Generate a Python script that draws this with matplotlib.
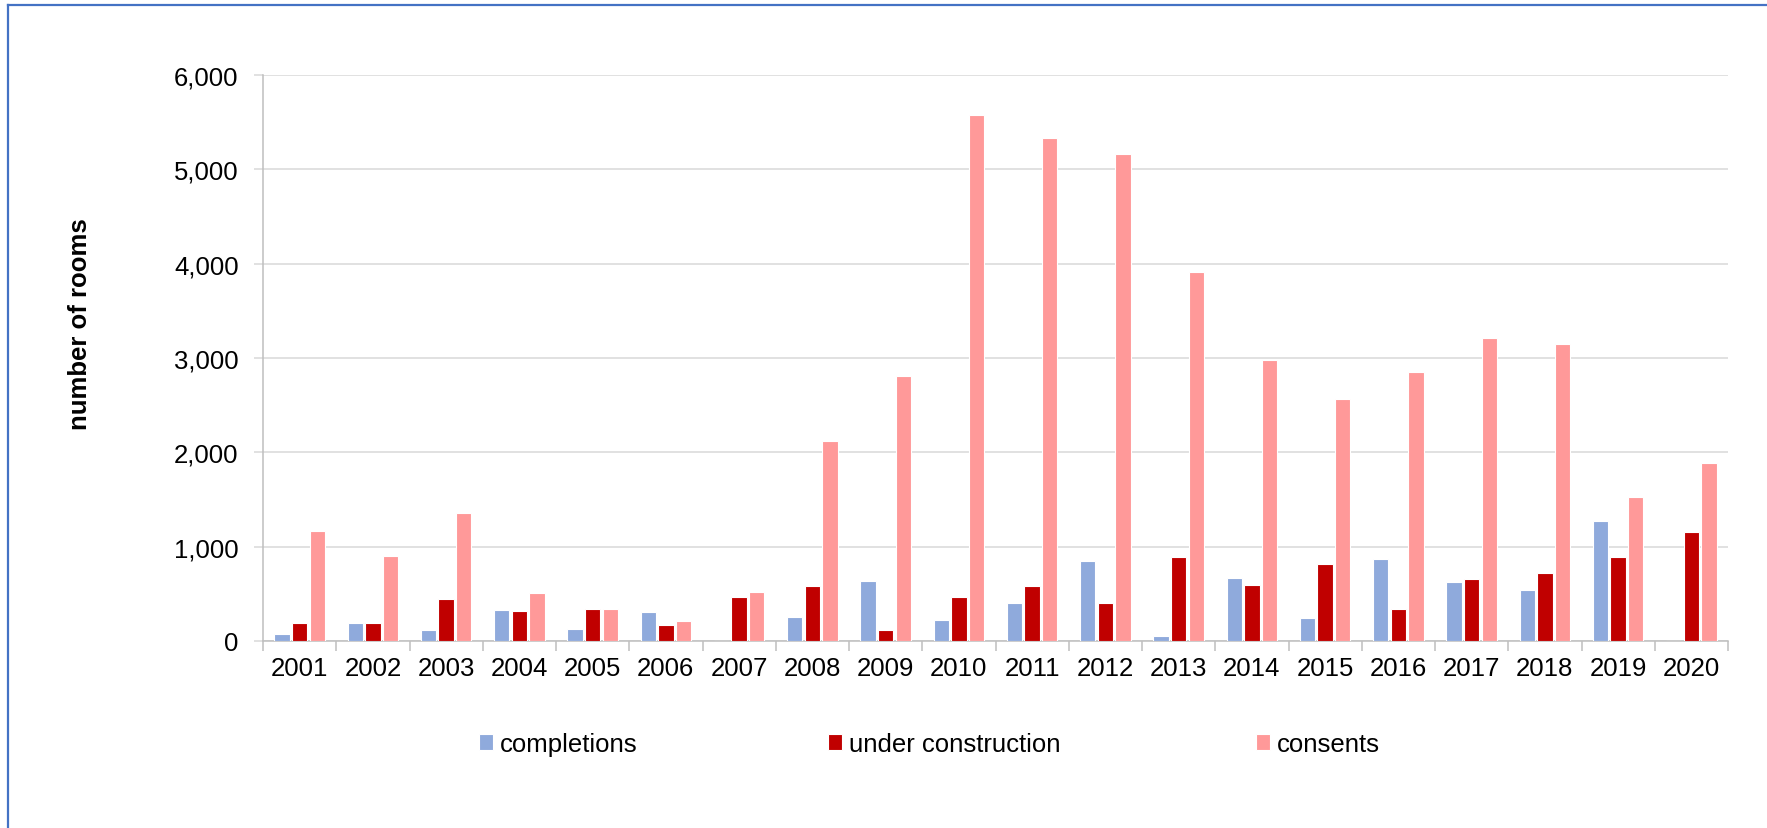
import matplotlib
matplotlib.use("Agg")
import matplotlib.pyplot as plt
import numpy as np
from matplotlib.lines import Line2D
from matplotlib.ticker import FuncFormatter, MultipleLocator

years = ["2001", "2002", "2003", "2004", "2005", "2006", "2007", "2008", "2009", "2010",
         "2011", "2012", "2013", "2014", "2015", "2016", "2017", "2018", "2019", "2020"]
completions = [71, 187, 113, 332, 131, 311, 0, 254, 640, 223,
               406, 852, 53, 668, 244, 866, 625, 537, 1269, 0]
under_construction = [187, 187, 442, 322, 339, 173, 466, 587, 117, 466,
                      587, 406, 890, 594, 816, 339, 657, 717, 890, 1159]
consents = [1163, 901, 1353, 509, 339, 208, 516, 2117, 2807, 5573,
            5329, 5166, 3915, 2975, 2568, 2855, 3209, 3145, 1526, 1887]
series_names = ["completions", "under construction", "consents"]
series_colors = ["#8FAADC", "#C00000", "#FF9999"]

plt.rcParams['font.family'] = ['Liberation Sans', 'DejaVu Sans']
FS = 18.5

W, H = 1767, 829
fig = plt.figure(figsize=(W / 100, H / 100), dpi=100)
ax = fig.add_axes([263 / W, 1 - 642 / H, (1728 - 263) / W, (642 - 76) / H])

x = np.arange(len(years))
step = 0.24
bw = 0.21
containers = []
for i, (vals, name, col) in enumerate(zip([completions, under_construction, consents],
                                          series_names, series_colors)):
    bc = ax.bar(x + (i - 1) * step, vals, width=bw, color=col, edgecolor="white",
                linewidth=0.8, label=name, zorder=3)
    containers.append(bc)

ax.set_xlim(-0.5, len(years) - 0.5)
ax.set_ylim(0, 6000)
ax.yaxis.set_major_locator(MultipleLocator(1000))
ax.yaxis.set_major_formatter(FuncFormatter(lambda v, p: f"{int(v):,}"))
ax.grid(axis="y", color="#D9D9D9", linewidth=1.1, zorder=0)
ax.set_axisbelow(True)

ax.set_xticks(x)
ax.set_xticklabels(years)
ax.set_xticks(np.arange(-0.5, len(years)), minor=True)
ax.tick_params(axis="x", which="major", length=0, pad=11, labelsize=FS)
ax.tick_params(axis="x", which="minor", length=7, color="#BFBFBF", width=1.1)
ax.tick_params(axis="y", length=6.5, color="#D9D9D9", width=1.1, pad=11, labelsize=FS)

for s in ["top", "right"]:
    ax.spines[s].set_visible(False)
for s in ["left", "bottom"]:
    ax.spines[s].set_color("#BFBFBF")
    ax.spines[s].set_linewidth(1.1)

ax.set_ylabel("number of rooms", fontsize=FS, fontweight="bold")
ax.yaxis.set_label_coords((92 - 263) / 1465, (642 - 324) / 566)

legend_x = [479, 828, 1256]
for bc, name, lx in zip(containers, series_names, legend_x):
    fig.legend(handles=[bc], labels=[name], loc="center left",
               bbox_to_anchor=(lx / W, 1 - 745 / H), frameon=False,
               fontsize=FS, handlelength=0.55, handleheight=0.55,
               handletextpad=0.25, borderpad=0, borderaxespad=0)

# blue border
border_col = "#4472C4"
fig.add_artist(Line2D([8 / W, 1.0], [1 - 6 / H, 1 - 6 / H], transform=fig.transFigure,
                      color=border_col, linewidth=1.6))
fig.add_artist(Line2D([8 / W, 8 / W], [0.0, 1 - 6 / H], transform=fig.transFigure,
                      color=border_col, linewidth=1.6))

fig.savefig("out.png", dpi=100, facecolor="white")
